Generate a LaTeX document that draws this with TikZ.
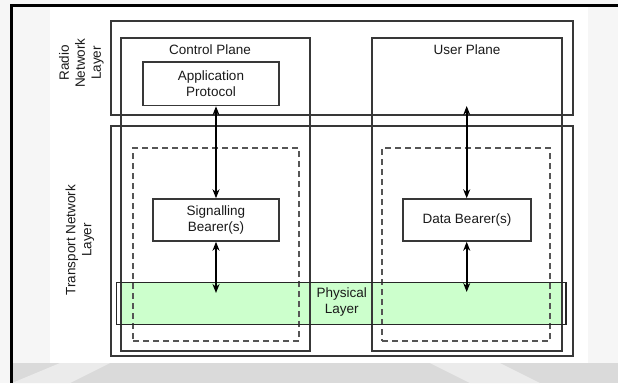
\documentclass[tikz,border=0pt]{standalone}
\usepackage{fontspec}
\setmainfont{Liberation Sans}
\usetikzlibrary{arrows.meta}

\definecolor{linegray}{HTML}{383838}
\definecolor{dashgray}{HTML}{555555}
\definecolor{phygreen}{HTML}{CCFFCC}
\definecolor{txt}{HTML}{1A1A1A}
\definecolor{pagegray}{HTML}{DADADA}
\definecolor{margin}{HTML}{F6F6F6}

\tikzset{
  layerbox/.style={draw=linegray, line width=1.6pt, inner sep=0pt},
  innerbox/.style={draw=linegray, line width=1.5pt, fill=white, inner sep=0pt},
  dashbox/.style={draw=dashgray, line width=1.3pt, dash pattern=on 6pt off 4pt, inner sep=0pt},
  lbl/.style={text=txt, font=\fontsize{13.5}{16}\selectfont, align=center, inner sep=0pt},
  biarrow/.style={line width=2pt, draw=black,
    {Stealth[length=9pt,width=7pt]}-{Stealth[length=9pt,width=7pt]}},
}

\begin{document}
\begin{tikzpicture}[x=1pt,y=-1pt]
  % page background
  \useasboundingbox (0,0) rectangle (618,383);
  \fill[margin] (0,0) rectangle (618,383);
  \fill[white] (50,5) rectangle (588,363);
  \fill[pagegray] (12,363) rectangle (618,383);
  \fill[margin!60!pagegray] (12,383) -- (60,363) -- (110,363) -- (70,383) -- cycle;
  \fill[margin!60!pagegray] (430,363) -- (500,363) -- (540,383) -- (470,383) -- cycle;
  \draw[black, line width=2.6pt] (11.5,383) -- (11.5,5.5) -- (618,5.5);

  % physical layer band (fill only, outline comes last)
  \fill[phygreen] (121,282.5) rectangle (562,324.5);

  % layers
  \node[layerbox, minimum width=462pt, minimum height=94pt] (radio) at (342,68) {};
  \node[layerbox, minimum width=462pt, minimum height=230pt] (transport) at (342,241) {};

  % planes
  \node[layerbox, minimum width=189pt, minimum height=313pt] (ctrl) at (215.5,194.5) {};
  \node[layerbox, minimum width=190pt, minimum height=313pt] (user) at (467,194.5) {};

  % dashed transport domains
  \node[dashbox, minimum width=166pt, minimum height=193pt] (dashL) at (216,244.5) {};
  \node[dashbox, minimum width=168pt, minimum height=193pt] (dashR) at (466,244.5) {};

  % physical layer outline
  \node[draw=black!85, line width=1.4pt, minimum width=449.5pt, minimum height=42pt, inner sep=0pt]
    (phys) at (341.25,303.5) {};

  % functional blocks
  \node[innerbox, minimum width=136pt, minimum height=43.5pt] (app) at (211,83.75) {};
  \node[innerbox, minimum width=126pt, minimum height=42pt] (sig) at (216,220) {};
  \node[innerbox, minimum width=128pt, minimum height=42pt] (data) at (467,220) {};

  % labels
  \node[lbl, rotate=90] (radiolbl) at (81.5,63) {Radio\\Network\\Layer};
  \node[lbl, rotate=90] (translbl) at (80,240) {Transport Network\\Layer};
  \node[lbl] (ctrllbl) at (210,50) {Control Plane};
  \node[lbl] (userlbl) at (467,50) {User Plane};
  \node[lbl] (applbl) at (app.center) {Application\\Protocol};
  \node[lbl] (siglbl) at (sig.center) {Signalling\\Bearer(s)};
  \node[lbl] (datalbl) at (data.center) {Data Bearer(s)};
  \node[lbl] (physlbl) at (341.7,302) {Physical\\Layer};

  % connectors
  \coordinate (ctrlphy) at (216,293);
  \coordinate (usertop) at (466.7,106);
  \coordinate (userphy) at (466.7,292);
  \draw[biarrow] (app.south -| sig.north) -- (sig.north);
  \draw[biarrow] (sig.south) -- (ctrlphy);
  \draw[biarrow] (usertop) -- (usertop |- data.north);
  \draw[biarrow] (usertop |- data.south) -- (userphy);
\end{tikzpicture}
\end{document}
